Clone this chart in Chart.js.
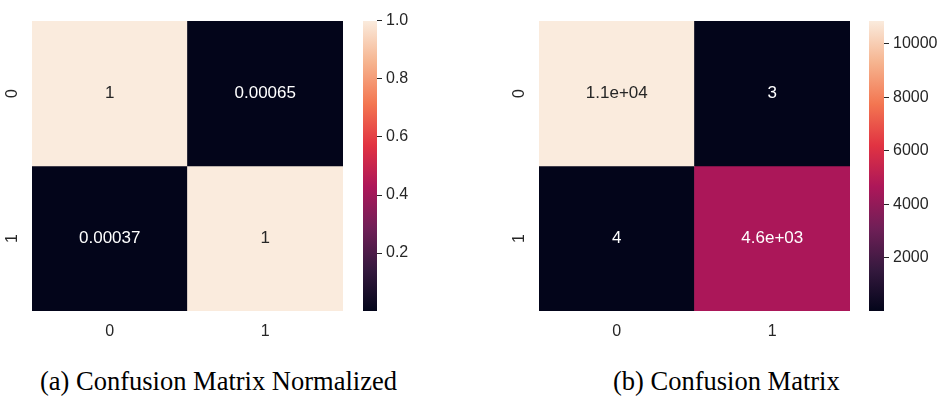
<!DOCTYPE html>
<html>
<head>
<meta charset="utf-8">
<script src="https://cdn.jsdelivr.net/npm/chart.js@4/dist/chart.umd.min.js"></script>
<style>
  html, body { margin: 0; padding: 0; background: #fff; overflow: hidden; }
  #page { position: relative; width: 941px; height: 397px; }
  canvas { position: absolute; top: 0; }
  .caption {
    position: absolute; top: 368px; white-space: nowrap;
    font-family: "Liberation Serif", "DejaVu Serif", serif;
    font-size: 26.5px; line-height: 1; color: #000;
  }
</style>
</head>
<body>
<div id="page">
  <canvas id="hm-norm" width="360" height="345" style="left:0px"></canvas>
  <canvas id="cb-norm" width="120" height="345" style="left:340px"></canvas>
  <canvas id="hm-count" width="360" height="345" style="left:507px"></canvas>
  <canvas id="cb-count" width="95" height="345" style="left:846px"></canvas>
  <div class="caption" style="left:40px">(a) Confusion Matrix Normalized</div>
  <div class="caption" style="left:613px">(b) Confusion Matrix</div>
</div>
<script>
// dados
const rowLabels = ['0', '1'];
const colLabels = ['0', '1'];
const normValues = [[0.99963, 0.00065], [0.00037, 0.99935]];
const countValues = [[10855, 3], [4, 4600]];
const normTicks = [0.2, 0.4, 0.6, 0.8, 1.0];
const countTicks = [2000, 4000, 6000, 8000, 10000];

// paleta "rocket" do seaborn
const rocketStops = [
  [0.000, '#03051A'], [0.143, '#35193E'], [0.286, '#701F57'], [0.429, '#AD1759'],
  [0.571, '#E13342'], [0.714, '#F37651'], [0.857, '#F6B48F'], [1.000, '#FAEBDD']
];

const sans = '"Liberation Sans", Arial, sans-serif';
const textDark = '#262626';

function hexRgb(h) {
  return [1, 3, 5].map(i => parseInt(h.slice(i, i + 2), 16));
}

function rocket(t) {
  t = Math.max(0, Math.min(1, t));
  for (let i = 1; i < rocketStops.length; i++) {
    const [p1, c1] = rocketStops[i];
    if (t <= p1) {
      const [p0, c0] = rocketStops[i - 1];
      const f = (t - p0) / (p1 - p0);
      const a = hexRgb(c0), b = hexRgb(c1);
      return a.map((v, k) => Math.round(v + (b[k] - v) * f));
    }
  }
  return hexRgb(rocketStops[rocketStops.length - 1][1]);
}

function luminance(rgb) {
  const c = rgb.map(v => {
    v /= 255;
    return v <= 0.03928 ? v / 12.92 : Math.pow((v + 0.055) / 1.055, 2.4);
  });
  return 0.2126 * c[0] + 0.7152 * c[1] + 0.0722 * c[2];
}

// igual ao '%.2g' do python
function fmtG(v) {
  const exp = Math.floor(Math.log10(Math.abs(v)));
  if (exp < -4 || exp >= 2) {
    let [m, e] = v.toExponential(1).split('e');
    m = m.replace(/\.0$/, '');
    const sign = e[0] === '-' ? '-' : '+';
    return m + 'e' + sign + String(Math.abs(+e)).padStart(2, '0');
  }
  return String(+v.toPrecision(2));
}

const annotPlugin = {
  id: 'annot',
  afterDatasetsDraw(chart) {
    const ctx = chart.ctx;
    const values = chart.options.plugins.annot.values;
    ctx.save();
    ctx.font = '17px ' + sans;
    ctx.textAlign = 'center';
    ctx.textBaseline = 'middle';
    chart.data.datasets.forEach((ds, r) => {
      chart.getDatasetMeta(r).data.forEach((el, c) => {
        const rgb = ds.cellRgb[c];
        ctx.fillStyle = luminance(rgb) > 0.408 ? textDark : '#ffffff';
        ctx.fillText(fmtG(values[r][c]), el.x, (el.y + el.base) / 2);
      });
    });
    ctx.restore();
  }
};

function heatmap(id, values, vmin, vmax) {
  new Chart(document.getElementById(id), {
    type: 'bar',
    data: {
      labels: colLabels,
      datasets: values.map((row, r) => {
        const rgb = row.map(v => rocket((v - vmin) / (vmax - vmin)));
        return {
          data: row.map(() => [r, r + 1]),
          cellRgb: rgb,
          backgroundColor: rgb.map(c => `rgb(${c.join(',')})`),
          borderWidth: 0,
          grouped: false,
          barPercentage: 1,
          categoryPercentage: 1
        };
      })
    },
    options: {
      responsive: false,
      animation: false,
      layout: { padding: { top: 21, right: 17, left: 0, bottom: 0 } },
      plugins: { legend: { display: false }, tooltip: { enabled: false }, annot: { values } },
      scales: {
        x: {
          grid: { display: false },
          border: { display: false },
          ticks: { color: textDark, font: { family: sans, size: 16 }, padding: 3 },
          afterFit: s => { s.height = 34; }
        },
        y: {
          min: 0, max: 2, reverse: true,
          grid: { display: false },
          border: { display: false },
          afterBuildTicks: s => { s.ticks = rowLabels.map((_, i) => ({ value: i + 0.5 })); },
          ticks: {
            color: textDark, font: { family: sans, size: 16 },
            minRotation: 90, maxRotation: 90, crossAlign: 'center', padding: 7,
            callback: v => rowLabels[Math.floor(v)]
          },
          afterFit: s => { s.width = 32; }
        }
      }
    },
    plugins: [annotPlugin]
  });
}

function colorbar(id, vmin, vmax, tickVals, fmt, axisWidth) {
  new Chart(document.getElementById(id), {
    type: 'bar',
    data: {
      labels: [''],
      datasets: [{
        data: [[vmin, vmax]],
        borderWidth: 0,
        barPercentage: 1,
        categoryPercentage: 1,
        backgroundColor: (c) => {
          const area = c.chart.chartArea;
          if (!area) return null;
          const g = c.chart.ctx.createLinearGradient(0, area.bottom, 0, area.top);
          rocketStops.forEach(([p, col]) => g.addColorStop(p, col));
          return g;
        }
      }]
    },
    options: {
      responsive: false,
      animation: false,
      layout: { padding: { top: 21, bottom: 34, left: 23, right: 0 } },
      plugins: { legend: { display: false }, tooltip: { enabled: false } },
      scales: {
        x: { display: false },
        y: {
          position: 'right',
          min: vmin, max: vmax,
          border: { display: false },
          grid: { drawOnChartArea: false, drawTicks: true, tickLength: 5, color: textDark, lineWidth: 1 },
          afterBuildTicks: s => { s.ticks = tickVals.map(v => ({ value: v })); },
          ticks: { color: textDark, font: { family: sans, size: 16 }, padding: 4, callback: fmt },
          afterFit: s => { s.width = axisWidth; }
        }
      }
    }
  });
}

const nMin = Math.min(...normValues.flat()), nMax = Math.max(...normValues.flat());
const cMin = Math.min(...countValues.flat()), cMax = Math.max(...countValues.flat());

heatmap('hm-norm', normValues, nMin, nMax);
colorbar('cb-norm', nMin, nMax, normTicks, v => v.toFixed(1), 83);
heatmap('hm-count', countValues, cMin, cMax);
colorbar('cb-count', cMin, cMax, countTicks, v => String(v), 57);
</script>
</body>
</html>
